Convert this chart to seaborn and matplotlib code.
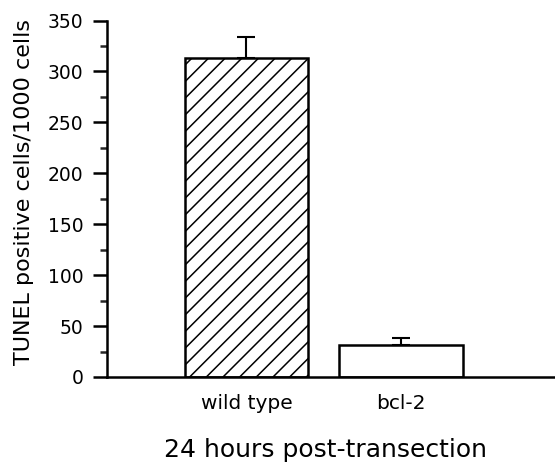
import matplotlib
matplotlib.use("Agg")
import matplotlib.pyplot as plt
import seaborn as sns
import pandas as pd
import numpy as np
from matplotlib.ticker import MultipleLocator

categories = ["wild type", "bcl-2"]
values = [313, 31]
errors = [21, 7]
yticks = [0, 50, 100, 150, 200, 250, 300, 350]

sns.set_theme(style="white")
plt.rcParams['font.family'] = ['DejaVu Sans']
plt.rcParams['hatch.linewidth'] = 1.1

df = pd.DataFrame({"group": categories, "value": values})

fig = plt.figure(figsize=(5.55, 4.66), dpi=100)
ax = fig.add_axes([107/555, 1-377/466, (555-107)/555, (377-20.5)/466])

sns.barplot(data=df, x="group", y="value", order=categories, color="white",
            edgecolor="black", linewidth=1.8, width=0.8, errorbar=None, ax=ax)
ax.patches[0].set_hatch("//")

xpos = np.arange(len(categories))
ax.errorbar(xpos, values, yerr=[np.zeros(len(errors)), errors], fmt="none",
            ecolor="black", elinewidth=1.5, capsize=6.8, capthick=1.5, zorder=1)

ax.set_ylim(0, 350)
ax.set_xlim(-0.903, 1.997)
ax.yaxis.set_minor_locator(MultipleLocator(25))
for s in ["top", "right"]:
    ax.spines[s].set_visible(False)
for s in ["left", "bottom"]:
    ax.spines[s].set_color("black")
    ax.spines[s].set_linewidth(1.8)
ax.tick_params(axis="y", which="major", left=True, length=10, width=1.8, direction="out",
               colors="black", pad=7)
ax.tick_params(axis="y", which="minor", left=True, length=5, width=1.8, direction="out")
ax.set_yticks(yticks, labels=[str(v) for v in yticks], fontsize=13.5, color="black")
ax.tick_params(axis="x", bottom=False, labelsize=14.5, labelcolor="black", pad=6)
ax.set_ylabel("")
ax.set_xlabel("")
fig.text(24/555, 1-192/466, "TUNEL positive cells/1000 cells", fontsize=16, rotation=90,
         ha="center", va="center", color="black")
fig.text(325/555, 1-457/466, "24 hours post-transection", fontsize=18, ha="center",
         va="baseline", color="black")

fig.savefig("out.png", dpi=100)
